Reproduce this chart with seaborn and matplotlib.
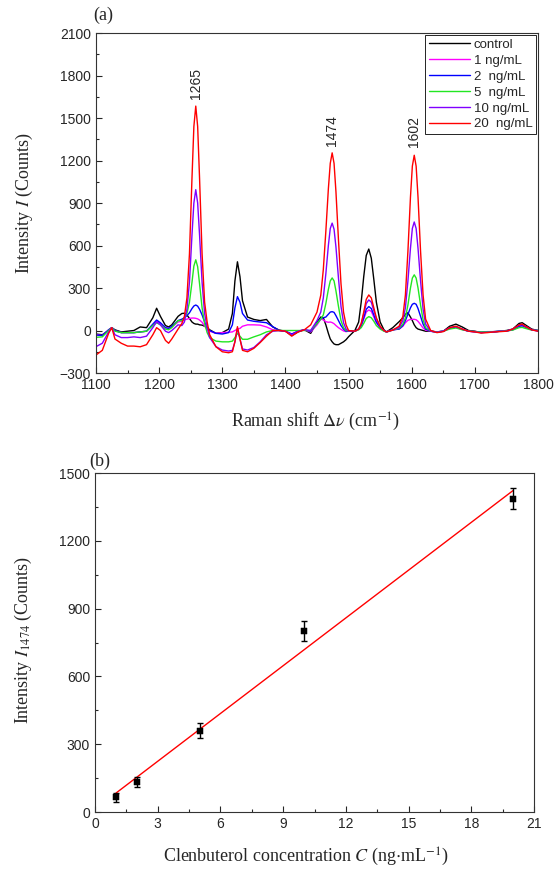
import numpy as np
import pandas as pd
import matplotlib
matplotlib.use("Agg")
import matplotlib.pyplot as plt
import seaborn as sns
from matplotlib.ticker import MultipleLocator

# ---------------- data: panel (a) SERS spectra ----------------
raman_shift = [1100, 1110, 1120, 1125, 1130, 1140, 1150, 1160, 1170, 1180, 1190, 1196, 1202, 1210, 1215, 1220, 1230,
               1236, 1240, 1244, 1248, 1252, 1255, 1258, 1261, 1264, 1268, 1272, 1276, 1280, 1290,
               1300, 1310, 1316, 1320, 1324, 1328, 1332, 1340, 1350, 1360, 1370, 1380, 1390,
               1400, 1410, 1420, 1430, 1440, 1450,
               1456, 1460, 1464, 1468, 1471, 1474, 1477, 1480, 1484, 1488, 1492, 1496, 1500,
               1510, 1516, 1520, 1524, 1528, 1532, 1536, 1540, 1544, 1550, 1556, 1560, 1570,
               1580, 1586, 1590, 1594, 1598, 1601, 1604, 1607, 1610, 1614, 1618, 1622, 1630,
               1640, 1650, 1660, 1670, 1680, 1690, 1700, 1710, 1720, 1730, 1740, 1750, 1760, 1770, 1775, 1780, 1790, 1800]

control = [-25, -30, 0, 20, 5, -10, -5, 0, 25, 20, 90, 157, 100, 35, 25, 40, 100,
           120, 122, 110, 85, 60, 50, 45, 45, 40, 38, 30, 20, 5, -20,
           -15, 10, 120, 350, 485, 380, 210, 95, 78, 70, 78, 25, 3,
           -5, -35, -10, 5, -20, 60,
           95, 90, 40, -20, -60, -80, -95, -100, -100, -90, -80, -65, -44,
           0, 60, 200, 380, 530, 575, 510, 360, 200, 60, 5, -10, 20,
           62, 90, 115, 125, 95, 70, 40, 20, 10, 5, 0, -5, -5,
           -10, -5, 30, 45, 25, 0, -5, -15, -10, -10, -5, 0, 10, 50, 55, 40, 10, 0]

conc_1 = [-30, -35, 5, 20, 0, -15, -15, -15, -10, -5, 40, 65, 50, 20, 15, 25, 60,
          65, 75, 80, 85, 88, 88, 86, 82, 74, 58, 32, 10, -5, -20,
          -15, -12, -10, 0, 10, 15, 30, 40, 40, 38, 25, 5, 0,
          -5, -25, -5, 5, -10, 40,
          80, 75, 62, 58, 60, 56, 48, 35, 20, 8, -3, -8, -5,
          -5, 8, 30, 80, 130, 145, 135, 95, 55, 18, 0, -10, 5,
          10, 30, 55, 72, 78, 79, 79, 76, 65, 42, 18, 3, -5,
          -10, -5, 15, 22, 8, -5, -8, -12, -10, -8, -5, -3, 5, 30, 32, 22, 5, 0]

conc_2 = [-32, -35, 5, 20, 0, -15, -15, -15, -10, -5, 45, 74, 55, 20, 15, 30, 70,
          80, 90, 105, 125, 155, 173, 180, 172, 150, 110, 60, 20, 0, -20,
          -25, -15, 40, 160, 239, 200, 120, 74, 65, 60, 55, 27, 0,
          -5, -25, -5, 5, -5, 50,
          85, 90, 95, 115, 130, 133, 128, 105, 70, 35, 10, -5, -5,
          -5, 10, 35, 90, 150, 169, 155, 110, 60, 20, 0, -10, 5,
          10, 35, 70, 115, 160, 185, 192, 185, 155, 100, 45, 10, -5,
          -10, -5, 15, 25, 8, -5, -8, -12, -10, -8, -5, -3, 5, 30, 35, 25, 5, 0]

conc_5 = [-48, -45, 0, 20, -5, -15, -15, -15, -10, -5, 35, 55, 40, 10, 5, 20, 70,
          70, 85, 120, 200, 340, 455, 499, 450, 330, 160, 50, -15, -50, -75,
          -80, -80, -75, -50, -20, -40, -62, -62, -45, -30, -10, 0, 0,
          0, 0, 0, 0, 0, 50,
          80, 110, 190, 290, 350, 371, 350, 280, 170, 70, 20, 0, -5,
          -5, 5, 20, 50, 85, 98, 90, 65, 35, 10, -5, -10, 3,
          15, 45, 90, 180, 300, 370, 393, 370, 300, 180, 75, 20, -5,
          -10, -5, 10, 18, 5, -3, -8, -10, -8, -8, -5, -3, 3, 20, 22, 15, 3, 0]

conc_10 = [-114, -90, -10, 20, -30, -50, -50, -45, -50, -40, 20, 62, 40, -5, -15, 0, 40,
           35, 60, 150, 340, 675, 900, 994, 900, 675, 340, 120, 20, -50, -114,
           -138, -145, -140, -80, 15, -60, -130, -138, -120, -80, -30, -5, 0,
           -5, -30, -5, 5, 0, 70,
           130, 230, 400, 600, 720, 758, 715, 590, 370, 170, 55, 10, -5,
           -5, 10, 45, 115, 190, 216, 200, 140, 80, 25, 0, -10, 3,
           20, 70, 160, 350, 580, 720, 766, 720, 580, 350, 150, 45, -5,
           -12, -5, 20, 28, 10, -5, -10, -15, -12, -10, -5, -5, 10, 38, 42, 30, 5, -5]

conc_20 = [-173, -140, -20, 20, -60, -90, -110, -110, -115, -100, -30, 20, 0, -70, -90, -60, 10,
           50, 100, 230, 540, 1075, 1440, 1584, 1440, 1075, 540, 200, 60, -30, -115,
           -150, -157, -150, -80, 27, -60, -140, -150, -126, -85, -40, 0, 0,
           -5, -40, -10, 5, 40, 130,
           250, 430, 700, 1000, 1180, 1254, 1180, 980, 640, 330, 130, 40, 0,
           -5, 10, 50, 130, 220, 251, 230, 160, 90, 30, 0, -10, 3,
           30, 100, 250, 560, 940, 1160, 1237, 1160, 940, 560, 250, 80, 0,
           -15, -8, 20, 30, 10, -5, -10, -18, -15, -10, -8, -5, 10, 40, 45, 30, 5, -5]

series_labels = ["control", "1 ng/mL", "2  ng/mL", "5  ng/mL", "10 ng/mL", "20  ng/mL"]
series_colors = ["#000000", "#ff00ff", "#0000ff", "#22e622", "#8000ff", "#ff0000"]

peak_labels = ["1265", "1474", "1602"]
peak_label_x = [1258, 1473, 1604]
peak_label_y = [1635, 1300, 1292]

# ---------------- data: panel (b) calibration ----------------
conc = [1, 2, 5, 10, 20]
i1474 = [65, 133, 359, 800, 1386]
i1474_err = [21, 22, 33, 44, 47]

# ---------------- style ----------------
sns.set_style("ticks")
plt.rcParams["font.family"] = ["Liberation Sans", "DejaVu Sans"]
plt.rcParams["mathtext.fontset"] = "stix"
plt.rcParams["axes.linewidth"] = 0.8
plt.rcParams["xtick.direction"] = "in"
plt.rcParams["ytick.direction"] = "in"

SERIF = ["Liberation Serif", "DejaVu Serif"]

fig = plt.figure(figsize=(5.56, 8.73), dpi=100)
ax1 = fig.add_axes([96 / 556, 1 - 373 / 873, 442 / 556, 340 / 873])
ax2 = fig.add_axes([95 / 556, 1 - 812 / 873, 439 / 556, 339 / 873])

# ---------------- panel (a) ----------------
all_series = [control, conc_1, conc_2, conc_5, conc_10, conc_20]
df = pd.DataFrame({
    "shift": np.tile(raman_shift, len(all_series)),
    "intensity": np.concatenate(all_series),
    "sample": np.repeat(series_labels, len(raman_shift)),
})
sns.lineplot(data=df, x="shift", y="intensity", hue="sample", hue_order=series_labels,
             palette=dict(zip(series_labels, series_colors)), estimator=None, sort=False,
             linewidth=1.0, ax=ax1)
ax1.set_xlim(1100, 1800)
ax1.set_ylim(-300, 2100)
ax1.xaxis.set_major_locator(MultipleLocator(100))
ax1.xaxis.set_minor_locator(MultipleLocator(50))
ax1.yaxis.set_major_locator(MultipleLocator(300))
ax1.yaxis.set_minor_locator(MultipleLocator(150))
ax1.set_xlabel(r"Raman shift $\Delta\nu$ (cm$^{-1}$)", fontsize=13, family=SERIF)
ax1.set_ylabel(r"Intensity $I$ (Counts)", fontsize=13, family=SERIF)
ax1.xaxis.label.set_va("center")
ax1.yaxis.label.set_va("center")
ax1.xaxis.set_label_coords(0.496, -0.145)
ax1.yaxis.set_label_coords(-0.163, 0.5)
for t, xx, yy in zip(peak_labels, peak_label_x, peak_label_y):
    ax1.text(xx, yy, t, rotation=90, ha="center", va="bottom", fontsize=10)
handles, labels = ax1.get_legend_handles_labels()
leg = ax1.legend(handles, labels, loc="upper right", bbox_to_anchor=(1.0, 1.0),
                 fontsize=9.5, frameon=True, fancybox=False, edgecolor="black",
                 framealpha=1, handlelength=3.1, labelspacing=0.28, borderaxespad=0.12,
                 handletextpad=0.3, borderpad=0.3)
leg.get_frame().set_linewidth(0.6)

# ---------------- panel (b) ----------------
dfb = pd.DataFrame({"C": conc, "I": i1474, "err": i1474_err})
sns.regplot(data=dfb, x="C", y="I", ci=None, scatter=False, ax=ax2,
            line_kws=dict(color="red", linewidth=1.0))
ax2.errorbar(dfb["C"], dfb["I"], yerr=dfb["err"], fmt="none", ecolor="black",
             elinewidth=1.0, capsize=2.5, capthick=1.0, zorder=3)
sns.scatterplot(data=dfb, x="C", y="I", marker="s", s=20, color="black",
                edgecolor="black", ax=ax2, zorder=4)
ax2.set_xlim(0, 21)
ax2.set_ylim(0, 1500)
ax2.xaxis.set_major_locator(MultipleLocator(3))
ax2.xaxis.set_minor_locator(MultipleLocator(1.5))
ax2.yaxis.set_major_locator(MultipleLocator(300))
ax2.yaxis.set_minor_locator(MultipleLocator(150))
ax2.set_xlabel(r"Clenbuterol concentration $C$ (ng$\cdot$mL$^{-1}$)", fontsize=13, family=SERIF)
ax2.set_ylabel(r"Intensity $I_{1474}$ (Counts)", fontsize=13, family=SERIF)
ax2.xaxis.label.set_va("center")
ax2.yaxis.label.set_va("center")
ax2.xaxis.set_label_coords(0.48, -0.133)
ax2.yaxis.set_label_coords(-0.162, 0.507)

for ax in (ax1, ax2):
    ax.tick_params(which="major", length=4, width=0.8, labelsize=10, top=False, right=False)
    ax.tick_params(which="minor", length=2.5, width=0.8, top=False, right=False)
    for s in ax.spines.values():
        s.set_visible(True)
        s.set_color("#333333")

fig.text(103 / 556, 1 - 15 / 873, "(a)", ha="center", va="center", fontsize=13, family=SERIF)
fig.text(100 / 556, 1 - 461 / 873, "(b)", ha="center", va="center", fontsize=13, family=SERIF)

fig.savefig("out.png", dpi=100)
